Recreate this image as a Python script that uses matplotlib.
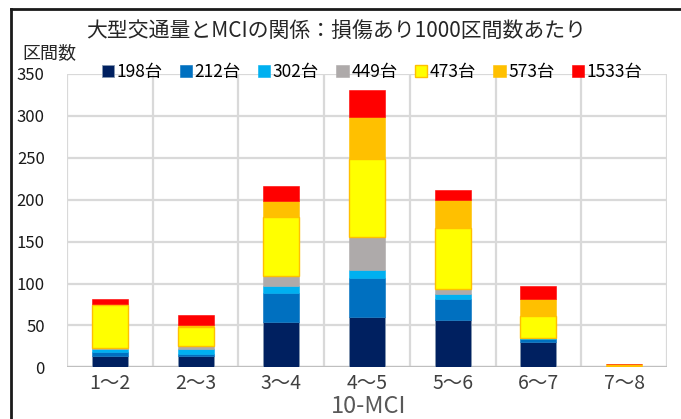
import matplotlib
matplotlib.use("Agg")
import matplotlib.pyplot as plt
import numpy as np
from matplotlib.lines import Line2D

plt.rcParams['font.family'] = ['Noto Sans CJK JP', 'DejaVu Sans']

categories = ["1～2", "2～3", "3～4", "4～5", "5～6", "6～7", "7～8"]
series_names = ["198台", "212台", "302台", "449台", "473台", "573台", "1533台"]
v198 = [13, 13, 54, 60, 56, 30, 0]
v212 = [5, 3, 35, 47, 25, 4, 0]
v302 = [4, 6, 8, 9, 7, 1, 0]
v449 = [1, 4, 12, 39, 6, 0, 0]
v473 = [51, 22, 70, 94, 72, 26, 0]
v573 = [1, 3, 20, 50, 34, 20, 4]
v1533 = [6, 11, 17, 32, 12, 16, 0]
yticks = [0, 50, 100, 150, 200, 250, 300, 350]

series = [v198, v212, v302, v449, v473, v573, v1533]
colors = ["#002060", "#0070C0", "#00B0F0", "#AEAAAA", "#FFFF00", "#FFC000", "#FF0000"]
edges = ["#8497B0", "#0070C0", "#00B0F0", "#AEAAAA", "#FFC000", "#FFC000", "#FF0000"]
lws = [0.6, 0.4, 0.4, 0.4, 1.0, 0.4, 0.4]

fig = plt.figure(figsize=(6.81, 4.19), dpi=100)
ax = fig.add_axes([67/681, 1-367.3/419, 600/681, 293.3/419])

x = np.arange(len(categories))
bottom = np.zeros(len(categories))
handles = []
for vals, c, ec, lw, name in zip(series, colors, edges, lws, series_names):
    vals = np.array(vals, dtype=float)
    b = ax.bar(x, vals, width=0.42, bottom=bottom, color=c, edgecolor=ec,
               linewidth=lw, label=name, zorder=3)
    bottom += vals
    handles.append(b)

ax.set_xlim(-0.5, len(categories) - 0.5)
ax.set_ylim(0, 350)
ax.set_yticks(yticks)
ax.set_yticklabels([str(t) for t in yticks], fontsize=12, color="#1a1a1a")
ax.set_xticks(x)
ax.set_xticklabels(categories, fontsize=14, color="#404040")
ax.set_xticks(np.arange(-0.5, len(categories), 1.0), minor=True)
ax.tick_params(axis='both', which='both', length=0)
ax.tick_params(axis='y', pad=16)
ax.tick_params(axis='x', pad=4)
for lbl in ax.get_yticklabels():
    lbl.set_horizontalalignment('right')
ax.grid(axis='y', which='major', color="#D9D9D9", linewidth=1.6, zorder=0)
ax.grid(axis='x', which='minor', color="#D9D9D9", linewidth=1.6, zorder=0)
ax.grid(axis='x', which='major', visible=False)
for s in ax.spines.values():
    s.set_visible(False)
ax.axhline(0, color="#BFBFBF", linewidth=1.6, zorder=2)

fig.text(369/681, 1-406/419, "10-MCI", fontsize=17, ha='center', va='center', color="#595959")
fig.text(336/681, 1-31/419, "大型交通量とMCIの関係：損傷あり1000区間数あたり",
         fontsize=15, ha='center', va='center', color="#262626")
fig.text(22/681, 1-53/419, "区間数", fontsize=13, ha='left', va='center', color="#262626")

leg = fig.legend(handles=handles, labels=series_names, ncol=7,
                 loc='center', bbox_to_anchor=(372/681, 1-72/419),
                 frameon=False, fontsize=12.5, handlelength=0.7, handleheight=0.7,
                 handletextpad=0.15, columnspacing=1.0, borderpad=0)

# outer chart frame (left and top edges visible)
fig.add_artist(Line2D([11/681, 11/681], [0, 1-9/419], color="#1a1a1a", linewidth=2,
                      transform=fig.transFigure))
fig.add_artist(Line2D([11/681, 1], [1-9/419, 1-9/419], color="#1a1a1a", linewidth=2,
                      transform=fig.transFigure))

fig.savefig("out.png", dpi=100)
